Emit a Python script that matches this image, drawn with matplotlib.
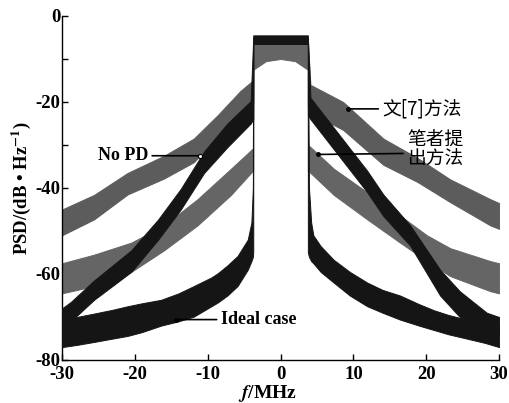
import numpy as np
import matplotlib
matplotlib.use("Agg")
import matplotlib.pyplot as plt

plt.rcParams.update({
    "font.family": ["Liberation Serif", "DejaVu Serif"],
    "font.weight": "bold",
    "mathtext.fontset": "stix",
    "axes.unicode_minus": False,
    "axes.linewidth": 1.0,
})

# ── data: each PSD curve as a noisy band (lower / upper envelope, dB) ──
# in-band edge at ±3.75 MHz is repeated to give the vertical edges
ideal_f = [-30, -28, -25.6, -23, -21, -19, -16.4, -14, -11.9, -9.5, -8.6, -7.3, -5.9, -4.5, -4.0, -3.8, -3.75,
           -3.75, -2, 0, 2, 3.75,
           3.75, 3.9, 4.2, 4.5, 5.5, 7.3, 9.5, 11.9, 14, 16.4, 19, 21, 23, 25.5, 28, 30]
ideal_hi = [-71, -70, -69.2, -68.3, -67.5, -66.8, -66, -64.5, -62.8, -60.8, -59.8, -58, -55.8, -52, -48, -40, -4.5,
            -4.5, -4.5, -4.5, -4.5, -4.5,
            -4.5, -40, -48, -51, -53.5, -56.7, -59.5, -62, -63.7, -65, -67, -68.4, -69.5, -70.6, -71.5, -72]
ideal_lo = [-77, -76.5, -75.8, -75, -74.4, -73.5, -72, -71, -69.9, -67.5, -66.6, -65, -62.8, -59, -57, -56, -55,
            -6.5, -6.5, -6.5, -6.5, -6.5,
            -55, -56, -57, -57.5, -59.5, -62, -65, -67.5, -69, -70.6, -72, -73, -74, -75, -76, -77]

nopd_f = [-30, -28.8, -25.6, -20.5, -16.8, -13.7, -10.5, -7.3, -4.1, -3.75,
          -3.75, 0, 3.75,
          3.75, 4.1, 8, 11.9, 14.1, 17.8, 21.9, 24.6, 28.3, 30]
nopd_hi = [-68, -66.5, -61.5, -54.5, -47.3, -40.2, -31.5, -25, -19.8, -5,
           -5, -5, -5,
           -5, -19, -27.5, -36, -41.5, -48.7, -59, -64, -69, -70]
nopd_lo = [-73, -71, -66, -59.5, -52, -45, -36.5, -30.5, -25, -24,
           -6.5, -6.5, -6.5,
           -23, -24, -32.5, -41, -46.5, -53.4, -65, -70, -73, -74]

ref7_f = [-30, -25.6, -21, -16, -11.9, -8.6, -5.5, -3.8, -3.75,
          -3.75, -2, 0, 2, 3.75,
          3.75, 4.1, 8.6, 14.1, 18.8, 23.3, 28.8, 30]
ref7_hi = [-45, -41.6, -36.5, -32.5, -28.5, -23, -17.4, -15, -5.5,
           -5.5, -5.5, -5.5, -5.5, -5.5,
           -5.5, -16, -20, -28.5, -33, -38, -42.6, -43.5]
ref7_lo = [-51, -47.3, -41.5, -37.8, -34, -28, -22.8, -20, -20,
           -12, -10, -9.5, -10, -12,
           -21, -22.5, -26.5, -34.6, -38.6, -43.3, -48.7, -49.5]

ours_f = [-30, -25.6, -20.5, -16, -11.4, -6.8, -3.8, -3.75,
          -3.75, -2, 0, 2, 3.75,
          3.75, 3.8, 7.3, 11.9, 16.4, 20.1, 23.3, 28.8, 30]
ours_hi = [-57.5, -55.5, -52.7, -48.7, -42.6, -35.5, -30.8, -6,
           -6, -6, -6, -6, -6,
           -6, -30, -35.5, -41, -46.4, -51, -54, -57, -57.5]
ours_lo = [-64.5, -62.8, -59.5, -54.5, -48.7, -41.6, -36, -36,
           -12.5, -10.5, -10, -10.5, -12.5,
           -36, -36, -41.6, -47.3, -52.7, -57, -60.5, -64, -64.5]

x_ticks = [-30, -20, -10, 0, 10, 20, 30]
y_ticks = [-80, -60, -40, -20, 0]

GRAY1 = "#5c5c5c"
GRAY2 = "#656565"
BLACK = "#151515"
CJK = ["Noto Sans CJK SC", "DejaVu Sans"]

fig = plt.figure(figsize=(5.1, 4.03), dpi=100)
ax = fig.add_axes([0.1216, 0.1067, 0.857, 0.8536])

ax.fill_between(ref7_f, ref7_lo, ref7_hi, color=GRAY1, lw=0.7, zorder=2)
ax.fill_between(ours_f, ours_lo, ours_hi, color=GRAY2, lw=0.7, zorder=2)
ax.fill_between(nopd_f, nopd_lo, nopd_hi, color=BLACK, lw=0.7, zorder=3)
ax.fill_between(ideal_f, ideal_lo, ideal_hi, color=BLACK, lw=0.7, zorder=3)

# ── annotations ──
line_kw = dict(arrowstyle="-", lw=1.2, color="black", shrinkA=1, shrinkB=0)
ax.annotate("No PD", xy=(-11, -32.5), xytext=(-18.2, -32.5), ha="right", va="center",
            fontsize=13, fontweight="bold", arrowprops=line_kw, zorder=5)
ax.plot(-11, -32.5, "o", ms=3, mfc="white", mec="black", mew=0.8, zorder=6)

ax.annotate("Ideal case", xy=(-14.4, -70.6), xytext=(-8.2, -70.6), ha="left", va="center",
            fontsize=13, fontweight="bold", arrowprops=line_kw, zorder=5)
ax.plot(-14.4, -70.6, "o", ms=2.5, color="black", zorder=6)

ax.annotate("文[7]方法", xy=(9.2, -21.6), xytext=(14.0, -21.6), ha="left", va="center",
            fontsize=13.5, fontweight="normal", family=CJK, arrowprops=line_kw, zorder=5)
ax.plot(9.2, -21.6, "o", ms=2.5, color="black", zorder=6)

ax.annotate("笔者提\n出方法", xy=(5.1, -32.2), xytext=(17.4, -31.0), ha="left", va="center",
            fontsize=13.5, fontweight="normal", family=CJK, linespacing=0.95, zorder=5,
            arrowprops=dict(arrowstyle="-", lw=1.2, color="black", shrinkA=1, shrinkB=0,
                            relpos=(0, 0.4)))
ax.plot(5.1, -32.2, "o", ms=2.5, color="black", zorder=6)

# ── axes ──
ax.set_xlim(-30, 30)
ax.set_ylim(-80, 0)
ax.set_xticks(x_ticks)
ax.set_yticks(y_ticks)
ax.set_yticks([-70, -50, -30, -10], minor=True)
ax.spines["top"].set_visible(False)
ax.spines["right"].set_visible(False)
ax.tick_params(direction="in", length=4, width=1, labelsize=13.5)
ax.tick_params(axis="x", pad=4.5)
ax.tick_params(axis="y", pad=1)
ax.tick_params(axis="y", which="minor", direction="in", length=4, width=1)
for lab in ax.get_xticklabels() + ax.get_yticklabels():
    lab.set_fontweight("bold")

ax.set_xlabel("$\\mathit{f}$/MHz", fontsize=14, fontweight="bold")
ax.xaxis.set_label_coords(0.47, -0.068)
ax.set_ylabel("PSD/(dB • Hz$^{\\mathbf{-1}}$)", fontsize=13.5, fontweight="bold")
ax.yaxis.set_label_coords(-0.066, 0.5)

fig.savefig("out.png", dpi=100)
